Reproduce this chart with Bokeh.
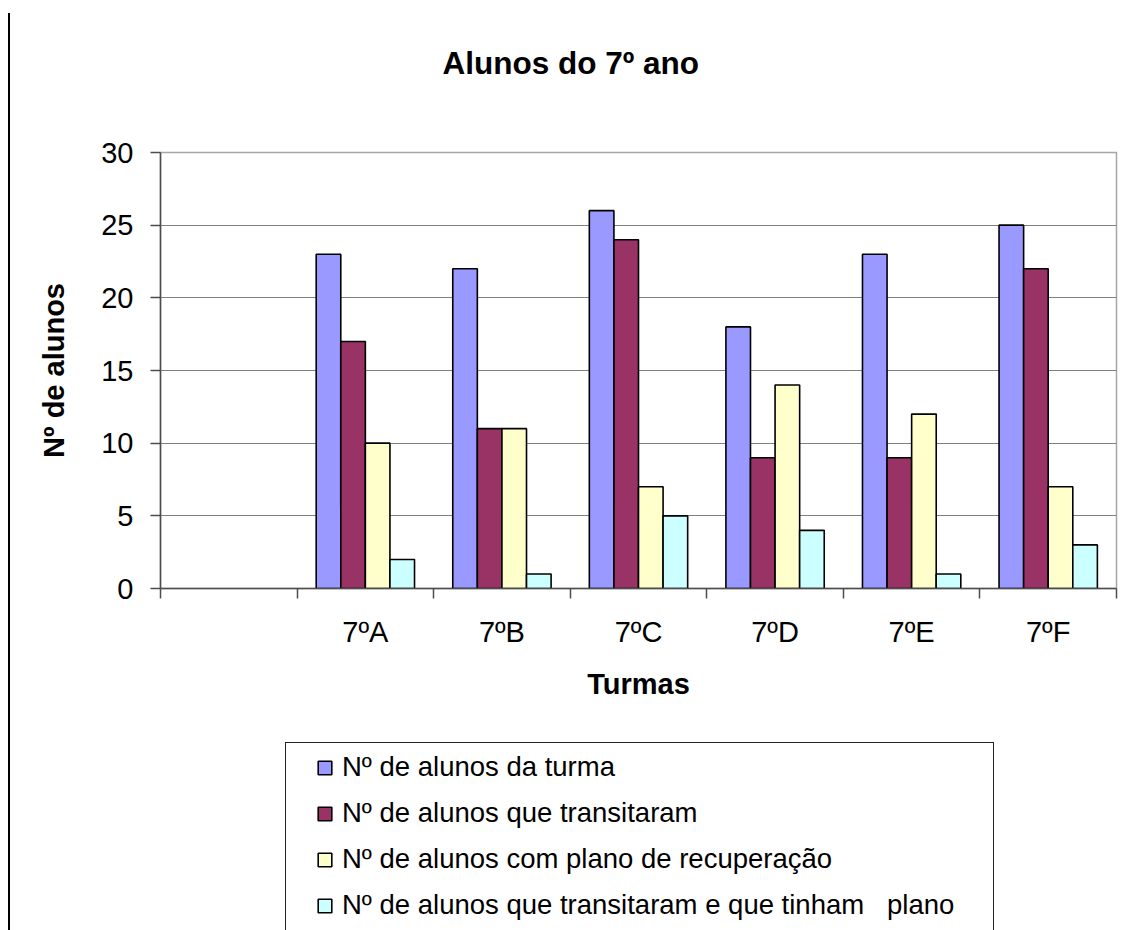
from bokeh.plotting import figure
from bokeh.models import (Range1d, FixedTicker, Legend, LegendItem, ColumnDataSource, Label)
from bokeh.transform import dodge
from bokeh.layouts import column
from bokeh.embed import file_html
from bokeh.resources import INLINE

NA = float("nan")  # the first (unnamed) category has no bars
categories = ["", "7ºA", "7ºB", "7ºC", "7ºD", "7ºE", "7ºF"]
alunos_turma = [NA, 23, 22, 26, 18, 23, 25]
transitaram = [NA, 17, 11, 24, 9, 9, 22]
plano_recuperacao = [NA, 10, 11, 7, 14, 12, 7]
transitaram_plano = [NA, 2, 1, 5, 4, 1, 3]
series_names = ["Nº de alunos da turma", "Nº de alunos que transitaram",
                "Nº de alunos com plano de recuperação",
                "Nº de alunos que transitaram e que tinham   plano"]
colors = ["#9999FF", "#993366", "#FFFFCC", "#CCFFFF"]
y_ticks = [0, 5, 10, 15, 20, 25, 30]
chart_title = "Alunos do 7º ano"

FONT = "Liberation Sans"
AXIS_COLOR = "#4d4d4d"
W = 1120
BL, BR = 160, 4          # left / right border shared by all three stacked figures
FRAME_W = W - BL - BR
centers = [i + 0.5 for i in range(len(categories))]
src = ColumnDataSource(dict(x=centers, s0=alunos_turma, s1=transitaram,
                            s2=plano_recuperacao, s3=transitaram_plano))


def page_line(top, height):
    return {"background": f"linear-gradient(#000, #000) no-repeat 8px {top}px / 2px {height}px"}


# ---------------- title strip ----------------
TH = 121
tf = figure(width=W, height=TH, output_backend="svg", toolbar_location=None,
            x_range=Range1d(0, FRAME_W), y_range=Range1d(0, TH),
            x_axis_location=None, y_axis_location=None,
            min_border_left=BL, min_border_right=BR, min_border_top=0, min_border_bottom=0,
            tools="")
tf.grid.visible = False
tf.outline_line_color = None
tf.background_fill_alpha = 0
tf.border_fill_alpha = 0
tf.styles = page_line(13, TH - 13)
tf.add_layout(Label(x=282, y=TH - 62, text=chart_title, text_align="left",
                    text_baseline="alphabetic", text_font=FONT, text_font_size="31.5px",
                    text_font_style="bold", text_color="black"))

# ---------------- main chart ----------------
PH = 741 - TH
p = figure(width=W, height=PH, output_backend="svg", toolbar_location=None,
           x_range=Range1d(0, len(categories)), y_range=Range1d(0, 30),
           min_border_left=BL, min_border_right=BR, min_border_top=152 - TH,
           min_border_bottom=153, tools="")
p.xgrid.visible = False
p.ygrid.grid_line_color = "#808080"
p.ygrid.grid_line_width = 1.2
p.outline_line_color = "#a6a6a6"
p.outline_line_width = 1.5
p.background_fill_color = "white"
p.border_fill_alpha = 0
p.styles = page_line(0, PH)

offsets = [-0.27, -0.09, 0.09, 0.27]
for k in range(4):
    p.vbar(x=dodge("x", offsets[k], range=p.x_range), top="s%d" % k, width=0.18,
           source=src, fill_color=colors[k], line_color="black", line_width=1.6)

xa = p.xaxis[0]
xa.ticker = FixedTicker(ticks=centers, minor_ticks=list(range(len(categories) + 1)))
xa.major_label_overrides = {c: lab for c, lab in zip(centers, categories)}
xa.major_tick_out = 0
xa.major_tick_in = 0
xa.minor_tick_out = 10
xa.minor_tick_in = 0
xa.minor_tick_line_color = AXIS_COLOR
xa.minor_tick_line_width = 1.5
xa.axis_line_color = AXIS_COLOR
xa.axis_line_width = 1.5
xa.major_label_text_font = FONT
xa.major_label_text_font_size = "29px"
xa.major_label_text_color = "black"
xa.major_label_standoff = 17
xa.axis_label = "Turmas"
xa.axis_label_text_font = FONT
xa.axis_label_text_font_size = "29px"
xa.axis_label_text_font_style = "bold"
xa.axis_label_text_color = "black"
xa.axis_label_standoff = 17

ya = p.yaxis[0]
ya.ticker = FixedTicker(ticks=y_ticks)
ya.major_tick_out = 10
ya.major_tick_in = 0
ya.minor_tick_line_color = None
ya.major_tick_line_color = AXIS_COLOR
ya.major_tick_line_width = 1.5
ya.axis_line_color = AXIS_COLOR
ya.axis_line_width = 1.5
ya.major_label_text_font = FONT
ya.major_label_text_font_size = "29px"
ya.major_label_text_color = "black"
ya.major_label_standoff = 17
ya.axis_label = "Nº de alunos"
ya.axis_label_text_font = FONT
ya.axis_label_text_font_size = "29px"
ya.axis_label_text_font_style = "bold"
ya.axis_label_text_color = "black"
ya.axis_label_standoff = 28

# ---------------- legend area ----------------
LH = 189
lg = figure(width=W, height=LH, output_backend="svg", toolbar_location=None,
            x_range=Range1d(0, 1), y_range=Range1d(0, 1),
            x_axis_location=None, y_axis_location=None,
            min_border_left=BL, min_border_right=BR, min_border_top=1, min_border_bottom=0,
            tools="")
lg.grid.visible = False
lg.outline_line_color = None
lg.background_fill_alpha = 0
lg.border_fill_alpha = 0
box = "#222222"
lg.styles = {"background": ", ".join([
    f"linear-gradient({box}, {box}) no-repeat 285px 1px / 709px 1px",
    f"linear-gradient({box}, {box}) no-repeat 285px 1px / 1px 200px",
    f"linear-gradient({box}, {box}) no-repeat 993px 1px / 1px 200px",
    "linear-gradient(#000, #000) no-repeat 8px 0px / 2px 189px",
])}

items = []
for k in range(4):
    # swatch renderers for the legend only (not drawn themselves)
    r = lg.vbar(x=[0.5], top=[0.5], width=0.1, fill_color=colors[k], line_color="black",
                line_width=1.6, visible=False)
    items.append(LegendItem(label=series_names[k], renderers=[r]))

legend = Legend(items=items, location=(156, 9), orientation="vertical",
                label_text_font=FONT, label_text_font_size="27.5px", label_text_color="black",
                glyph_width=17, glyph_height=17, label_height=32, spacing=14,
                label_standoff=9, padding=0, margin=0, inactive_fill_alpha=0,
                border_line_color=None, background_fill_alpha=0)
lg.add_layout(legend, "center")

layout = column(tf, p, lg, spacing=0)
open("out.html", "w").write(file_html(layout, INLINE))
